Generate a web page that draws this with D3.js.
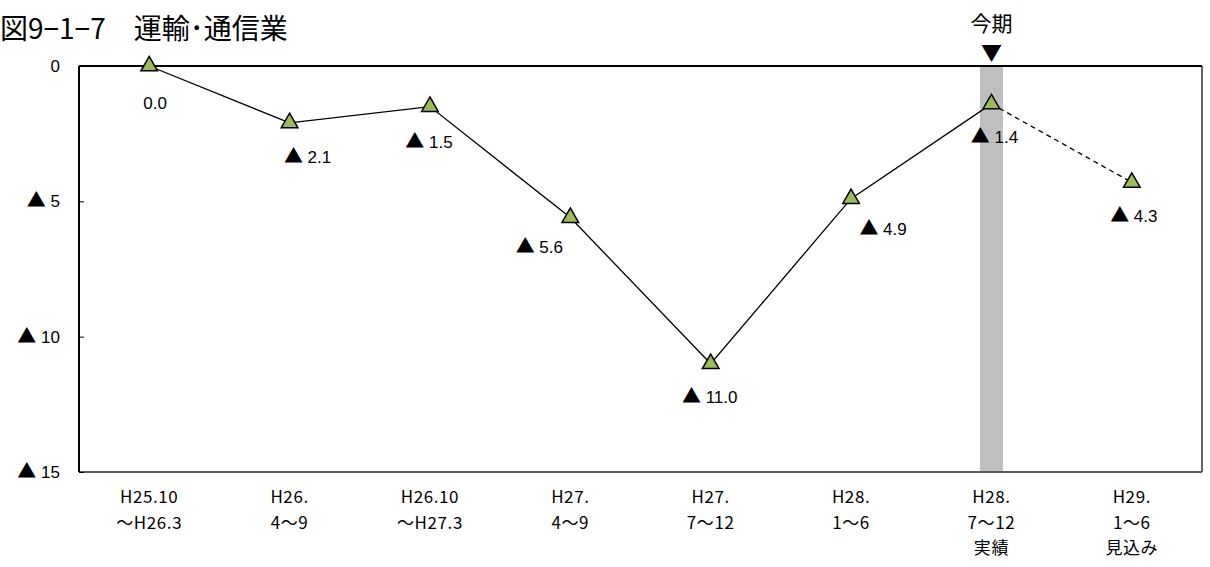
<!DOCTYPE html>
<html><head><meta charset="utf-8">
<script src="https://cdn.jsdelivr.net/npm/d3@7"></script>
<style>body{margin:0;background:#fff}</style>
</head><body>
<svg id="c" width="1210" height="567"></svg>
<script>
const categories = [
  ["H25.10","～H26.3"],
  ["H26.","4～9"],
  ["H26.10","～H27.3"],
  ["H27.","4～9"],
  ["H27.","7～12"],
  ["H28.","1～6"],
  ["H28.","7～12","実績"],
  ["H29.","1～6","見込み"]
];
// values are declines (▲ = minus)
const values = [0.0, -2.1, -1.5, -5.6, -11.0, -4.9, -1.4, -4.3];
const yTicks = [0, -5, -10, -15];
const labelDx = [6, 18, -1, -31, -1, 32, 3, 2];
const labelDy = [37, 34, 35, 29, 33, 30, 33, 34];
const currentIndex = 6;

const svg = d3.select("#c");
const L = 79, R = 1202, T = 66, B = 472;
const font = "'Noto Sans CJK JP', 'Liberation Sans', sans-serif";
const numFont = "'Liberation Sans', Arial, sans-serif";

const x = d3.scaleBand().domain(d3.range(categories.length)).range([L, R]);
const y = d3.scaleLinear().domain([0, -15]).range([T, B]);
const cx = i => x(i) + x.bandwidth() / 2;

// writes "▲ n" with a full-size triangle glyph
function writeVal(sel, v, digits) {
  if (v !== 0) {
    sel.append("tspan").attr("font-family", font).attr("font-size", 19).text("▲");
    sel.append("tspan").text(" " + (digits ? Math.abs(v).toFixed(1) : Math.abs(v)));
  } else {
    sel.append("tspan").text(digits ? "0.0" : "0");
  }
}

// title
svg.append("text").attr("x", 0).attr("y", 39).attr("font-family", font)
  .attr("font-size", 28).attr("fill", "#000").text("図9−1−7　運輸･通信業");

// current period band
svg.append("rect").attr("x", cx(currentIndex) - 11.5).attr("y", T)
  .attr("width", 23).attr("height", B - T).attr("fill", "#bfbfbf");
svg.append("text").attr("x", cx(currentIndex)).attr("y", 31).attr("text-anchor", "middle")
  .attr("font-family", font).attr("font-size", 21).text("今期");
svg.append("text").attr("x", cx(currentIndex)).attr("y", 60).attr("text-anchor", "middle")
  .attr("font-family", font).attr("font-size", 21).text("▼");

// frame
svg.append("line").attr("x1", L).attr("x2", R).attr("y1", T).attr("y2", T).attr("stroke", "#000").attr("stroke-width", 2);
svg.append("line").attr("x1", R).attr("x2", R).attr("y1", T).attr("y2", B).attr("stroke", "#000").attr("stroke-width", 1.2);
svg.append("line").attr("x1", L).attr("x2", R).attr("y1", B).attr("y2", B).attr("stroke", "#595959").attr("stroke-width", 2);
svg.append("line").attr("x1", L).attr("x2", L).attr("y1", T).attr("y2", B).attr("stroke", "#000").attr("stroke-width", 2);

// y axis
const yAxis = svg.append("g").attr("transform", `translate(${L},0)`)
  .call(d3.axisRight(y).tickValues(yTicks).tickSize(5).tickFormat(""));
yAxis.select(".domain").remove();
yAxis.selectAll("line").attr("stroke", "#000");
yTicks.forEach(d => {
  const t = svg.append("text").attr("x", 60).attr("y", y(d)).attr("dy", "0.35em").attr("text-anchor", "end")
    .attr("font-family", numFont).attr("font-size", 17);
  writeVal(t, d, false);
});

// x labels
categories.forEach((c, i) => {
  c.forEach((t, j) => {
    svg.append("text").attr("x", cx(i)).attr("y", 503 + j * 25.5).attr("text-anchor", "middle")
      .attr("font-family", font).attr("font-size", 17).attr("letter-spacing", 0.6).text(t);
  });
});

// lines
const line = d3.line().x(d => cx(d.i)).y(d => y(d.v));
const pts = values.map((v, i) => ({v, i}));
svg.append("path").attr("d", line(pts.slice(0, currentIndex + 1)))
  .attr("fill", "none").attr("stroke", "#000").attr("stroke-width", 1.3);
svg.append("path").attr("d", line(pts.slice(currentIndex)))
  .attr("fill", "none").attr("stroke", "#000").attr("stroke-width", 1.3).attr("stroke-dasharray", "5,4");

// markers
const tri = d3.symbol().type(d3.symbolTriangle).size(120);
svg.selectAll(".m").data(pts).join("path")
  .attr("transform", d => `translate(${cx(d.i)},${y(d.v)})`)
  .attr("d", tri).attr("fill", "#9bbb59").attr("stroke", "#000").attr("stroke-width", 1.5);

// data labels
pts.forEach(d => {
  const t = svg.append("text").attr("x", cx(d.i) + labelDx[d.i]).attr("y", y(d.v) + labelDy[d.i])
    .attr("dy", "0.35em").attr("text-anchor", "middle")
    .attr("font-family", numFont).attr("font-size", 17);
  writeVal(t, d.v, true);
});
</script>
</body></html>
